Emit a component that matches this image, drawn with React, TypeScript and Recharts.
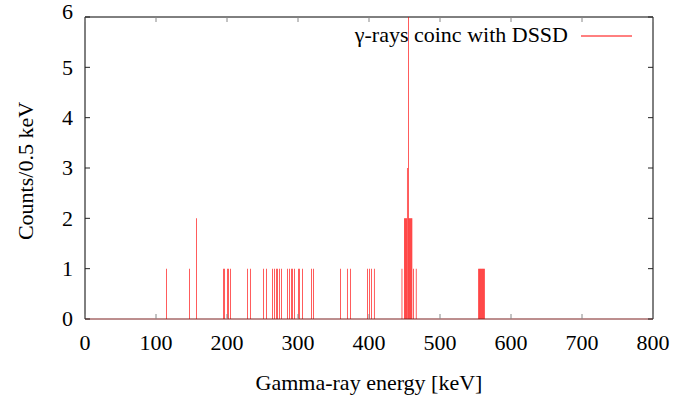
import { ComposedChart, Bar, XAxis, YAxis } from 'recharts';

// gamma energies (keV, 0.5 keV bins) that have counts
const energies = [
  115, 147, 157, 195, 196.5, 200.5, 202, 205, 229, 233,
  251.5, 255.5, 264, 267, 269.5, 271, 274, 277, 285, 288,
  291, 292.5, 295, 300.5, 302, 306.5, 319, 322, 360, 369.5,
  374, 398, 400.5, 403.5, 407.5, 446.5, 450, 451, 452, 453,
  454, 455.5, 456.5, 457.5, 458.5, 459.5, 460.5, 462.5, 466.5,
  554.5, 555.5, 556.5, 557.5, 558.5, 559.5, 560.5, 561.5, 562.5,
];
const counts = [
  1, 1, 2, 1, 1, 1, 1, 1, 1, 1,
  1, 1, 1, 1, 1, 1, 1, 1, 1, 1,
  1, 1, 1, 1, 1, 1, 1, 1, 1, 1,
  1, 1, 1, 1, 1, 1, 2, 2, 2, 2,
  3, 6, 2, 2, 2, 2, 2, 1, 1,
  1, 1, 1, 1, 1, 1, 1, 1, 1,
];
const xTicks = [0, 100, 200, 300, 400, 500, 600, 700, 800];
const yTicks = [0, 1, 2, 3, 4, 5, 6];

const data = energies.map((e, i) => ({ e, n: counts[i] }));

const FONT = 'Liberation Serif, Times New Roman, serif';
// plot frame (gnuplot border)
const L = 85, R = 653, T = 17, B = 319;

const XTick = (props: any) => {
  const { x, y, payload } = props;
  return (
    <g>
      <line x1={x} x2={x} y1={B} y2={B - 5} stroke="#888" />
      <line x1={x} x2={x} y1={T} y2={T + 5} stroke="#888" />
      <text x={x} y={y} dy="0.71em" textAnchor="middle" fontSize={22} fontFamily={FONT} fill="#000">
        {payload.value}
      </text>
    </g>
  );
};

const YTick = (props: any) => {
  const { x, y, payload } = props;
  // gnuplot put the top label a bit above its tick
  const shift = payload.value === 6 ? -5 : 0;
  return (
    <g>
      <line x1={L} x2={L + 5} y1={y} y2={y} stroke="#222" />
      <line x1={R} x2={R - 5} y1={y} y2={y} stroke="#222" />
      <text x={x} y={y + shift} dy="0.34em" textAnchor="end" fontSize={22} fontFamily={FONT} fill="#000">
        {payload.value}
      </text>
    </g>
  );
};

export default function App() {
  return (
    <div style={{ position: 'absolute', left: 0, top: 0, width: 691, height: 396, background: '#fff' }}>
      <ComposedChart
        width={691}
        height={396}
        data={data}
        margin={{ top: T, right: 691 - R, left: L - 60, bottom: 396 - B - 40 }}
        style={{ fontFamily: FONT }}
      >
        <XAxis
          dataKey="e"
          type="number"
          domain={[0, 800]}
          allowDataOverflow
          ticks={xTicks}
          height={40}
          tickSize={0}
          tickMargin={15}
          tick={<XTick />}
          tickLine={false}
          axisLine={{ stroke: '#7a1e1e' }}
        />
        <YAxis
          type="number"
          domain={[0, 6]}
          allowDataOverflow
          ticks={yTicks}
          width={60}
          tickSize={0}
          tickMargin={12}
          tick={<YTick />}
          tickLine={false}
          axisLine={{ stroke: '#000' }}
        />
        <Bar dataKey="n" fill="#ff0000" barSize={1.3} isAnimationActive={false} />
        <g fontFamily={FONT} fill="#000">
          <polyline points={`${L},${T} ${R},${T} ${R},${B}`} fill="none" stroke="#000" strokeWidth={1} />
          <text x={25} y={171} transform="rotate(-90 25 171)" textAnchor="middle" dy="0.35em" fontSize={22}>
            Counts/0.5 keV
          </text>
          <text x={369} y={390} textAnchor="middle" fontSize={22}>
            Gamma-ray energy [keV]
          </text>
          <text x={568} y={42} textAnchor="end" fontSize={22}>
            γ-rays coinc with DSSD
          </text>
          <line x1={581} x2={632} y1={36} y2={36} stroke="#ff0000" strokeWidth={1} />
        </g>
      </ComposedChart>
    </div>
  );
}
